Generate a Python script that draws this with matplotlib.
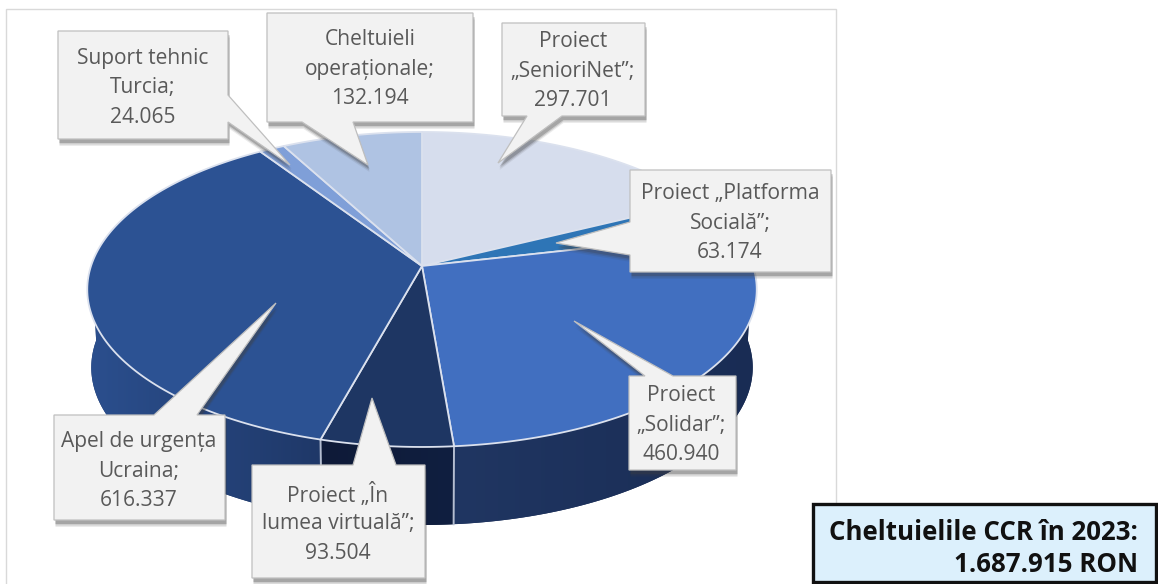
#!/usr/bin/env python3
"""Cheltuielile CCR 2023 - 3D style pie with callouts."""
import matplotlib
matplotlib.use('Agg')
import matplotlib.pyplot as plt
from matplotlib.colors import LinearSegmentedColormap
from matplotlib.patches import Polygon, Rectangle
import numpy as np

plt.rcParams['font.family'] = ['Open Sans', 'DejaVu Sans']

# Data, clockwise from 12 o'clock
names = [['Proiect', '„SenioriNet”;'],
         ['Proiect „Platforma', 'Socială”;'],
         ['Proiect', '„Solidar”;'],
         ['Proiect „În', 'lumea virtuală”;'],
         ['Apel de urgența', 'Ucraina;'],
         ['Suport tehnic', 'Turcia;'],
         ['Cheltuieli', 'operaționale;']]
values = [297701, 63174, 460940, 93504, 616337, 24065, 132194]
total_lines = ['Cheltuielile CCR în 2023:', '1.687.915 RON']

top_colors = ['#d6dded', '#2e75b6', '#416fc0', '#1e3663', '#2c5293', '#7f9fd8', '#afc3e3']
side_left = ['#d6dded', '#2e75b6', '#203662', '#0e1a38', '#2b4f8e', '#7f9fd8', '#afc3e3']
side_right = ['#d6dded', '#2e75b6', '#192c54', '#101f40', '#1f3868', '#7f9fd8', '#afc3e3']

# Callouts: box (x0, y0, x1, y1), outline points of the pointer in drawing order
boxes = [(502, 23, 645, 116), (630, 170, 831, 272), (629, 376, 736, 470),
         (252, 465, 425, 578), (54, 415, 225, 520), (58, 31, 228, 139),
         (267, 13, 473, 122)]
pointers = [('bottom', (562, 116), (498, 163), (527, 116)),
            ('left', (630, 255), (556, 243), (630, 222)),
            ('top', (645, 376), (574, 321), (673, 376)),
            ('top', (353, 465), (372, 398), (396, 465)),
            ('top', (154, 415), (276, 303), (197, 415)),
            ('right', (228, 95), (290, 165), (228, 122)),
            ('bottom', (353, 122), (368, 165), (302, 122))]
text_pos = [(573, 71), (730, 223), (681, 425), (338, 524), (139, 471), (143, 88), (370, 69)]

# Pie geometry in pixels: a circle seen in perspective
APEX_X, APEX_Y = 422, 266
BX, AY, K = 331, 154, 0.149
DEPTH = 78
SHRINK = 0.988


def rim(theta):
    u, v = np.sin(theta), np.cos(theta)
    return APEX_X + BX * u / (1 + K * v), APEX_Y - AY * v / (1 + K * v)


def rim_low(theta):
    x, y = rim(theta)
    return APEX_X + (x - APEX_X) * SHRINK, y + DEPTH


fig = plt.figure(figsize=(11.58, 5.84), dpi=100)
ax = fig.add_axes([0, 0, 1, 1])
ax.axis('off')

# chart frame
ax.add_patch(Rectangle((6, 8.5), 830, 590, fc='white', ec='#d9d9d9', lw=1, zorder=0))

edges = np.cumsum([0] + values) / sum(values) * 2 * np.pi

# sides first, tops cover whatever is at the back
for i in range(len(values)):
    t = np.linspace(edges[i], edges[i + 1], 160)
    xt, yt = rim(t)
    xb, yb = rim_low(t)
    front = yt > 262
    if not front.any():
        continue
    xs = np.r_[xt[front], xb[front][::-1]]
    ys = np.r_[yt[front], yb[front][::-1]]
    poly = Polygon(np.c_[xs, ys], closed=True, fc=side_right[i], ec='none', zorder=2)
    ax.add_patch(poly)
    cmap = LinearSegmentedColormap.from_list('s', [side_left[i], side_right[i]])
    im = ax.imshow(np.linspace(0, 1, 256)[None, :], cmap=cmap, aspect='auto', zorder=2.1,
                   extent=(xs.min(), xs.max(), ys.max(), ys.min()))
    im.set_clip_path(poly)

# seams on the side, only where the side is in front
for e in edges:
    if np.cos(e) < -0.9:
        xt, yt = rim(e)
        xb, yb = rim_low(e)
        ax.plot([xt, xb], [yt, yb], color='#b4bdd0', lw=1.4, zorder=3)

# top faces
for i in range(len(values)):
    t = np.linspace(edges[i], edges[i + 1], 120)
    xt, yt = rim(t)
    pts = np.c_[np.r_[APEX_X, xt], np.r_[APEX_Y, yt]]
    ax.add_patch(Polygon(pts, closed=True, fc=top_colors[i], ec='#dbe1ee', lw=1.3,
                         joinstyle='round', zorder=4))

# callouts
for i in range(len(values)):
    x0, y0, x1, y1 = boxes[i]
    side, a, tip, b = pointers[i]
    if side == 'top':
        pts = [(x0, y0), a, tip, b, (x1, y0), (x1, y1), (x0, y1)]
    elif side == 'right':
        pts = [(x0, y0), (x1, y0), a, tip, b, (x1, y1), (x0, y1)]
    elif side == 'bottom':
        pts = [(x0, y0), (x1, y0), (x1, y1), a, tip, b, (x0, y1)]
    else:
        pts = [(x0, y0), (x1, y0), (x1, y1), (x0, y1), a, tip, b]
    pts = np.array(pts, dtype=float)
    z = 5 + i * 0.1
    for dy, al in [(7, 0.10), (5.5, 0.18), (4, 0.28)]:
        ax.add_patch(Polygon(pts + [1.5, dy], closed=True, fc='#404040', ec='none',
                             alpha=al, zorder=z))
    ax.add_patch(Polygon(pts, closed=True, fc='#f2f2f2', ec='#bfbfbf', lw=0.9, zorder=z + 0.01))
    lines = names[i] + [f'{values[i]:,}'.replace(',', '.')]
    cx, cy = text_pos[i]
    for j, line in enumerate(lines):
        ax.text(cx, cy + (j - 1) * 29.3, line, ha='center', va='center', fontsize=15.1,
                color='#595959', zorder=z + 0.02)

# total box
ax.add_patch(Rectangle((813, 504), 343, 78, fc='#dcf0fc', ec='#111111', lw=2.4, zorder=8))
ax.text(1138, 532, total_lines[0], ha='right', va='center', fontsize=18.6,
        fontweight='bold', color='#111111', zorder=9)
ax.text(1138, 564, total_lines[1], ha='right', va='center', fontsize=18.6,
        fontweight='bold', color='#111111', zorder=9)

ax.set_xlim(0, 1158)
ax.set_ylim(584, 0)

fig.savefig('out.png', dpi=100)
